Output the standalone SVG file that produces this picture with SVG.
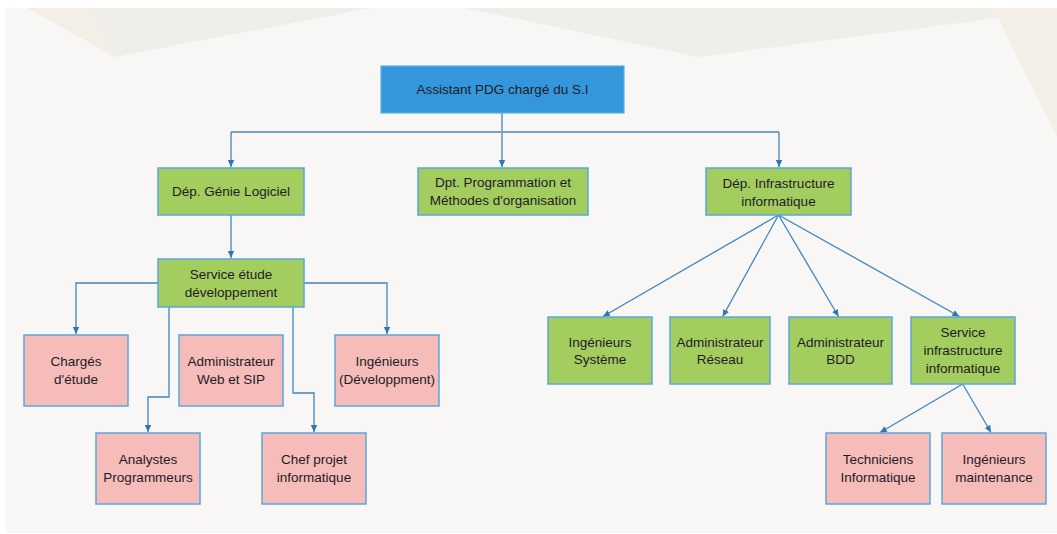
<svg xmlns="http://www.w3.org/2000/svg" width="1057" height="534" viewBox="0 0 1057 534">
<style>
.bg{fill:#ffffff}
.panel{fill:#f8f7f6}
.sh1{fill:#efeeea}
.sh2{fill:#f3efe7}
.blue{fill:#3597db;stroke:#5aaee3;stroke-width:1.2}
.green{fill:#a3cd5f;stroke:#5aa7dc;stroke-width:1.5}
.pink{fill:#f5bcba;stroke:#5aa7dc;stroke-width:1.5}
text{font-family:"Liberation Sans",Arial,sans-serif;font-size:13.5px;fill:#1f1b26;text-anchor:middle}
.c{fill:none;stroke:#3f86bd;stroke-width:1.3}
.bus{fill:none;stroke:#76a3c2;stroke-width:2.2}
</style>
<defs>
<marker id="arr" markerUnits="userSpaceOnUse" markerWidth="8" markerHeight="8" refX="7" refY="4" orient="auto">
<path d="M0,0.8 L7,4 L0,7.2 z" fill="#2f77b2"/>
</marker>
</defs>
<rect class="bg" x="0" y="0" width="1057" height="534"/>
<rect class="panel" x="6" y="8" width="1051" height="525"/>
<polygon class="sh2" points="27,8 115,57 88,8"/>
<polygon class="sh1" points="88,8 115,57 371,8"/>
<polygon class="sh1" points="465,8 698,57 998,18 1057,8"/>
<polygon class="sh2" points="998,18 1057,137 1057,8 984,8"/>

<g id="connectors">
<path class="c" d="M502,113 V167" marker-end="url(#arr)"/>
<path class="bus" d="M231,132 H779"/>
<path class="c" d="M231,132 V167" marker-end="url(#arr)"/>
<path class="c" d="M779,132 V167" marker-end="url(#arr)"/>
<path class="c" d="M231,215 V258" marker-end="url(#arr)"/>
<path class="c" d="M158,283 H76 V334" marker-end="url(#arr)"/>
<path class="c" d="M304,283 H387 V334" marker-end="url(#arr)"/>
<path class="c" d="M169,307 V397 H148 V432" marker-end="url(#arr)"/>
<path class="c" d="M293,307 V393 H314 V432" marker-end="url(#arr)"/>
<path class="c" d="M778.5,215 L603,316.5" marker-end="url(#arr)"/>
<path class="c" d="M778.5,215 L722.7,316.5" marker-end="url(#arr)"/>
<path class="c" d="M778.5,215 L838.5,316.5" marker-end="url(#arr)"/>
<path class="c" d="M778.5,215 L959.4,316.5" marker-end="url(#arr)"/>
<path class="c" d="M962.7,384 L880,432.5" marker-end="url(#arr)"/>
<path class="c" d="M962.7,384 L991,432.5" marker-end="url(#arr)"/>
</g>

<g id="root"><rect class="blue" x="381" y="66" width="243" height="47"/><text x="502.5" y="94">Assistant PDG chargé du S.I</text></g>
<g id="dep-genie"><rect class="green" x="158" y="168" width="146" height="47"/><text x="231" y="196">Dép. Génie Logiciel</text></g>
<g id="dpt-prog"><rect class="green" x="418" y="168" width="170" height="47"/><text x="503" y="187">Dpt. Programmation et</text><text x="503" y="205">Méthodes d'organisation</text></g>
<g id="dep-infra"><rect class="green" x="706" y="168" width="145" height="47"/><text x="778.5" y="187.5">Dép. Infrastructure</text><text x="778.5" y="205.5">informatique</text></g>
<g id="service-etude"><rect class="green" x="158" y="259" width="146" height="48"/><text x="231" y="278.5">Service étude</text><text x="231" y="296.5">développement</text></g>
<g id="charges"><rect class="pink" x="24" y="335" width="104" height="71"/><text x="76" y="366">Chargés</text><text x="76" y="384">d'étude</text></g>
<g id="admin-web"><rect class="pink" x="179" y="335" width="104" height="71"/><text x="231" y="366">Administrateur</text><text x="231" y="384">Web et SIP</text></g>
<g id="ing-dev"><rect class="pink" x="335" y="335" width="104" height="71"/><text x="387" y="366">Ingénieurs</text><text x="387" y="384">(Développment)</text></g>
<g id="analystes"><rect class="pink" x="96" y="433" width="104" height="71"/><text x="148" y="464">Analystes</text><text x="148" y="482">Programmeurs</text></g>
<g id="chef-projet"><rect class="pink" x="262" y="433" width="104" height="71"/><text x="314" y="464">Chef projet</text><text x="314" y="482">informatique</text></g>
<g id="ing-sys"><rect class="green" x="548" y="317" width="104" height="67"/><text x="600" y="346.5">Ingénieurs</text><text x="600" y="364">Système</text></g>
<g id="admin-reseau"><rect class="green" x="670" y="317" width="100" height="67"/><text x="720" y="346.5">Administrateur</text><text x="720" y="364">Réseau</text></g>
<g id="admin-bdd"><rect class="green" x="789" y="317" width="103" height="67"/><text x="840.5" y="346.5">Administrateur</text><text x="840.5" y="364">BDD</text></g>
<g id="service-infra"><rect class="green" x="911" y="317" width="104" height="67"/><text x="963" y="337">Service</text><text x="963" y="355">infrastructure</text><text x="963" y="373">informatique</text></g>
<g id="techniciens"><rect class="pink" x="826" y="433" width="104" height="71"/><text x="878" y="464">Techniciens</text><text x="878" y="482">Informatique</text></g>
<g id="ing-maint"><rect class="pink" x="942" y="433" width="104" height="71"/><text x="994" y="464">Ingénieurs</text><text x="994" y="482">maintenance</text></g>
</svg>
